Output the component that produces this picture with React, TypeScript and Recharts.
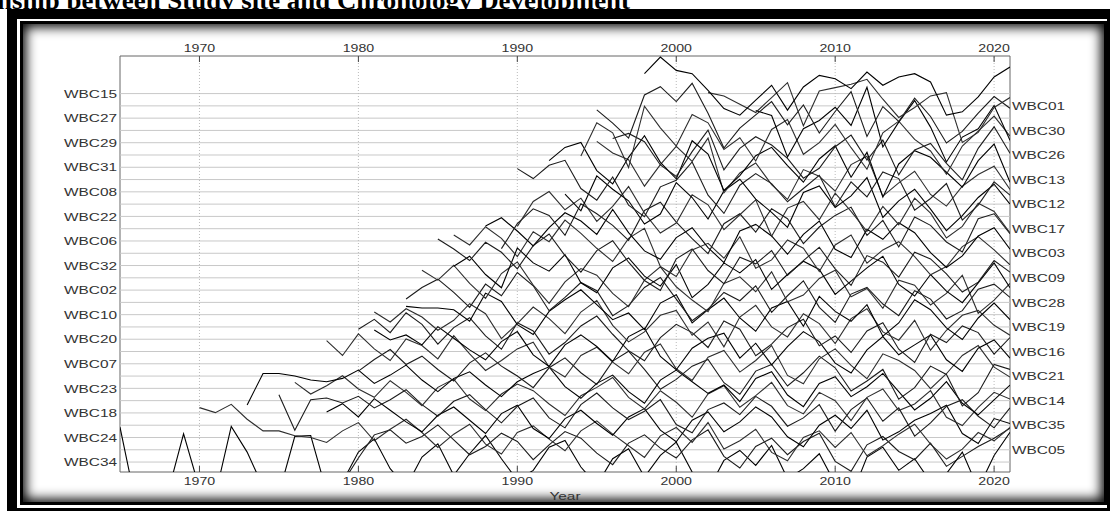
import React from "react";
import { LineChart, Line, XAxis, YAxis, ReferenceLine, ReferenceArea } from "recharts";

// series from the bottom row (level 0) up to the top row (level 30)
const seriesNames = [
  "WBC34", "WBC05", "WBC24", "WBC35", "WBC18", "WBC14", "WBC23", "WBC21",
  "WBC07", "WBC16", "WBC20", "WBC19", "WBC10", "WBC28", "WBC02", "WBC09",
  "WBC32", "WBC03", "WBC06", "WBC17", "WBC22", "WBC12", "WBC08", "WBC13",
  "WBC31", "WBC26", "WBC29", "WBC30", "WBC27", "WBC01", "WBC15",
];

const startYears = [
  1965, 1979, 1970, 1978, 1975, 1976, 1973, 1980,
  1978, 1981, 1980, 1981, 1983, 1983, 1984, 1986,
  1985, 1986, 1988, 1989, 1990, 1993, 1990, 1995,
  1992, 1996, 1994, 2005, 1995, 2002, 1998,
];

const yearTicks = [1970, 1980, 1990, 2000, 2010, 2020];
const firstYear = 1965;
const lastYear = 2021;

// standardized ring-width values (z-scores), one per year from the start year
const wbc34 = [2.1, -2.5, -2.2, -1.9, 1.7, -1.6, -2.0, 2.15, 0.6, -1.5, -1.9, 1.55, 1.6, -1.8, -1.2, 0.6, 1.4, -0.4, -1.5, 0.3, 1.1, -0.8, 0.5, 1.6, 0.2, -1.1, -0.5, 0.9, 1.3, -0.3, -1.4, 0.2, 0.8, -0.9, 0.4, 1.2, -0.6, -1.7, 0.1, 0.7, -0.2, 1.0, -1.0, -0.4, 0.5, -1.3, -2.1, 0.3, 0.9, -0.5, 0.2, -1.2, -0.7, 0.6, -1.6, 0.4, 1.8];
const wbc05 = [-2.0, -0.5, 0.9, 1.2, 0.4, 0.8, 1.5, 0.6, -0.3, 0.2, 1.0, 0.5, -0.6, 0.3, 1.1, 0.7, -0.2, -0.9, 0.4, 0.9, 0.1, -0.5, 0.6, 1.2, -0.4, -1.1, 0.2, 0.7, -0.3, 0.5, 1.0, -0.7, -1.3, 0.3, 0.8, -0.1, -0.6, 0.4, -1.0, -0.4, 0.2, 0.7, 1.3];
const wbc24 = [1.8, 1.5, 2.0, 1.1, 0.4, 0.4, 0.1, 0.0, -0.3, 0.4, 0.9, -0.2, 0.5, 1.1, 0.3, -0.6, 0.2, 0.8, -0.4, -1.0, 0.3, 0.7, -0.1, -0.8, 0.4, 1.0, 0.2, -0.5, -1.2, 0.1, 0.6, -0.3, 0.9, -0.7, -0.2, 0.5, -0.9, -1.4, 0.0, 0.4, -0.6, 0.3, -1.1, -0.5, 0.2, 0.8, -0.4, -1.3, -0.7, 0.3, -0.2, 0.6];
const wbc35 = [0.8, 1.3, 0.5, 1.6, 0.9, 0.2, -0.4, 0.6, 1.1, 0.3, -0.5, 0.7, 1.2, -0.2, -0.8, 0.4, 0.9, 0.1, -0.6, 0.5, 1.0, -0.3, -1.0, 0.3, 0.8, -0.4, 0.2, 1.1, 0.5, -0.7, -1.3, 0.0, 0.6, -0.2, 0.9, -0.9, -0.4, 0.3, 0.7, 1.2, -0.5, -1.1, 0.4, 0.1];
const wbc18 = [1.1, -1.05, 0.8, 0.9, 0.6, 1.0, 0.3, 0.8, 1.4, 0.5, -0.2, 0.7, 1.1, 0.2, -0.6, 0.4, 0.9, -0.3, -0.9, 0.5, 1.2, 0.3, -0.4, 0.1, 0.8, -0.7, -1.2, 0.2, 0.6, -0.1, 1.0, 0.4, -0.8, -0.3, 0.5, -1.1, 0.2, 0.9, -0.5, 0.3, -1.4, -0.6, 0.4, 0.8, -0.2, -0.9, 0.3];
const wbc14 = [1.1, 0.4, 0.9, 1.5, 0.7, 0.2, 1.2, 0.5, -0.3, 0.8, 1.3, 0.1, -0.6, 0.4, 1.0, 0.6, -0.2, -0.9, 0.3, 0.8, 1.4, 0.2, -0.5, 0.6, -0.1, -1.0, 0.4, 0.9, -0.4, 0.3, 1.1, -0.3, -0.8, 0.5, 0.0, -1.2, 0.2, 0.7, -0.6, -0.2, 0.6, -1.0, -1.5, -0.4, 0.5, 0.1];
const wbc23 = [-1.0, 0.9, 0.9, 0.75, 0.5, 0.4, 0.6, 1.1, 0.3, 0.8, 1.4, 0.5, -0.2, 0.6, 1.0, 0.2, -0.5, 0.4, 0.9, 1.3, 0.1, -0.6, 0.3, 0.8, -0.2, -0.9, 0.5, 1.1, 0.4, -0.3, 0.2, -0.8, 0.6, 1.0, -0.4, -1.1, 0.3, 0.7, -0.5, 0.1, 0.9, -0.2, -1.3, -0.6, 0.4, -0.9, -1.6, -0.7, 0.2];
const wbc21 = [0.3, 1.0, 1.6, 0.7, 1.2, 0.4, -0.3, 0.8, 1.4, 0.6, 0.0, -0.7, 0.5, 1.1, 0.2, -0.5, 0.9, 1.5, 0.4, -0.8, -0.2, 0.6, 1.0, -0.4, -1.1, 0.3, 0.7, -0.6, 0.2, 1.2, 0.5, -0.9, -0.3, 0.4, -1.4, -0.7, 0.6, 0.1, -1.8, -1.0, 0.7, 0.4];
const wbc07 = [1.4, 0.5, 1.8, 0.9, 0.2, 1.5, 1.1, 0.3, 1.7, 0.6, -0.4, 0.2, 0.9, 1.3, -0.2, -0.8, 0.5, 1.0, 0.1, -0.6, 0.7, 1.2, -0.3, -1.0, 0.4, 0.8, -0.5, 0.2, 1.1, -0.7, -1.2, 0.3, 0.9, -0.1, -0.9, 0.6, 0.2, -0.4, -1.5, -0.6, 0.5, 1.1, -0.2, -0.8];
const wbc16 = [1.3, 0.7, 1.0, 0.4, 1.5, 0.8, 0.1, -0.5, 0.6, 1.2, -0.2, -0.9, 0.4, 1.0, 0.3, -0.6, 0.9, 1.4, -0.3, -1.1, 0.2, 0.8, 1.1, -0.4, 0.5, -0.8, 0.3, 1.2, 0.6, -0.7, -1.3, 0.1, 0.9, -0.2, 0.4, 1.0, -0.5, -1.2, 0.2, 0.7, -0.4];
const wbc20 = [0.6, 1.2, 0.4, 1.6, 0.9, -0.3, 0.7, 1.3, 0.2, -0.6, 1.0, 0.5, -0.9, -0.2, 0.8, 1.4, 0.3, -0.7, -1.3, 0.1, 0.9, 0.4, -0.5, 1.1, 0.6, -1.0, -0.3, 0.7, 1.2, -0.4, 0.2, -0.8, 0.5, 1.0, -0.6, -1.4, 0.3, -0.2, 0.8, 0.4, -0.9, 0.1];
const wbc19 = [0.9, 0.3, 1.1, 0.6, -0.2, 0.4, 1.4, 0.8, -0.7, 0.2, 1.2, 0.5, -0.4, 0.9, 1.6, 0.1, -0.9, -0.3, 0.7, 1.0, -0.5, 0.3, -1.2, 0.6, 1.3, 0.0, -0.6, 0.8, 0.2, -1.0, 0.5, 1.1, -0.3, -0.8, 0.4, -1.4, -0.2, 0.7, 1.0, 0.1, -0.5];
const wbc10 = [0.5, 0.4, 0.4, 0.3, -0.4, 1.3, 0.8, -0.6, -1.2, 0.2, 0.9, 1.5, 0.6, -0.3, 0.1, -0.9, 0.7, 1.2, -0.5, 0.3, 1.0, -0.2, -1.0, 0.4, 0.8, -0.7, 1.1, 0.2, -0.4, 0.6, -1.3, -0.5, 0.9, 0.3, -0.8, -1.5, -0.2, 0.7, -0.3];
const wbc28 = [0.2, 0.9, 1.4, 0.6, -0.3, 1.1, 0.4, 1.8, 1.0, -0.5, 0.3, 1.2, 0.7, -0.8, -0.2, 0.9, 1.5, 0.2, -1.1, -0.4, 0.6, 0.1, 1.0, -0.6, 0.4, 1.3, -0.3, -1.2, 0.5, 0.9, -0.1, -0.8, 0.7, 0.2, -1.0, -0.5, 0.8, 1.1, 0.3];
const wbc02 = [1.2, 0.6, 1.5, 0.4, -0.5, 1.0, 1.7, 0.3, -0.8, 0.5, 1.3, 0.9, -0.2, -1.0, 0.6, 1.4, 0.2, -0.6, -1.3, 0.4, 0.8, -0.1, 1.1, -0.7, -0.3, 0.7, 1.2, -0.4, 0.1, -1.1, 0.6, 0.3, -0.9, -0.2, 0.9, -1.4, -0.6, 0.4];
const wbc09 = [0.7, 1.3, 0.2, -0.6, 1.8, 0.9, 0.4, 1.4, -0.3, -0.9, 0.6, 1.2, 0.1, -0.5, 0.8, -1.2, -0.4, 0.9, 0.3, 1.1, -0.7, 0.2, 1.0, 0.5, -1.0, -0.2, 0.6, 1.3, -0.4, -1.1, 0.2, -0.8, -1.5, -0.3, 0.9, -0.6];
const wbc32 = [1.6, 1.0, 0.3, 1.4, 0.8, -0.2, 1.2, 1.9, 0.6, -0.4, 0.9, 1.5, 0.2, -0.9, -1.5, 0.4, 1.0, -0.3, -1.1, 0.5, 0.1, 0.9, -0.6, 0.3, 1.1, -0.2, -1.2, 0.6, 0.2, -0.7, 0.8, 0.4, -0.5, -1.6, -1.0, 0.3, -0.4];
const wbc03 = [1.1, 0.5, 1.6, 0.9, -0.2, 1.3, 0.7, 2.0, 1.2, 0.3, -0.5, 0.9, 1.5, -0.8, -1.4, 0.2, 0.6, -0.3, 1.0, -0.9, -0.4, 0.8, 0.3, -1.1, 0.5, 1.1, -0.6, 0.2, 0.7, -0.2, -1.3, -0.8, 0.4, 1.0, 0.2, -0.7];
const wbc06 = [0.9, 1.4, 0.6, -0.3, 0.8, 1.7, 1.2, 0.4, 1.9, 0.5, -0.6, -1.1, 0.2, 0.8, -0.4, -1.3, 0.6, 1.0, 0.3, -0.8, 0.4, 1.2, -0.5, -1.0, 0.7, 0.1, 1.1, 0.5, -0.7, -1.6, -0.9, 0.3, 0.8, -0.5];
const wbc17 = [-1.2, 0.3, 1.2, 0.8, -0.4, 1.5, 0.9, 0.2, -0.7, 1.1, 1.6, 0.4, -0.6, -1.5, 0.3, 0.9, -0.2, 1.2, 0.6, -0.9, 0.1, 0.8, 1.3, -0.4, 0.5, -1.1, 0.7, 0.2, -0.8, -1.4, 0.6, 0.9, -0.3];
const wbc22 = [-0.6, 0.9, 1.5, 0.4, 1.1, -0.3, 0.6, 1.8, 0.2, -1.0, -0.4, 1.3, 0.7, -0.8, 0.1, 1.0, -1.2, 0.5, 0.9, -0.2, 1.4, 0.3, -0.9, 0.6, -0.5, 1.1, 0.2, -1.3, -0.6, 0.8, 0.3, -1.0];
const wbc12 = [0.6, -0.4, 1.7, 0.9, 0.2, -1.2, -0.6, 1.3, 0.4, -0.9, 0.8, 1.5, 0.3, -0.5, -1.4, 0.7, 1.1, -0.2, 0.5, 1.6, -0.8, 0.2, 0.9, -0.3, -1.6, -0.7, 0.4, 1.2, 0.0];
const wbc08 = [1.4, 0.8, 1.6, 1.9, 0.2, -0.5, 0.9, -0.8, -1.5, 0.3, 0.7, 1.8, -0.2, -1.3, 0.4, 1.1, 0.5, -0.6, 0.2, 1.0, -0.9, 0.6, -0.3, 1.2, 0.8, -1.1, -0.4, 0.5, -1.7, -0.8, 0.6, -0.2];
const wbc13 = [2.3, 1.6, 1.2, -0.4, 0.9, 2.0, 1.1, 2.5, -0.8, 0.4, 1.0, -0.3, -1.2, 0.6, 0.2, -0.7, 0.9, 1.4, -1.0, -0.2, 0.5, -0.9, -1.6, -0.4, 0.3, 0.8, -0.6];
const wbc31 = [0.4, 1.2, 1.5, -0.2, -1.0, 0.6, 1.9, 0.3, -0.7, 1.6, 0.8, -1.4, -0.5, 0.7, 1.2, 0.1, -0.9, 0.5, 1.3, -0.6, 0.9, -1.8, 0.2, 1.0, 0.6, -0.3, -1.2, 0.4, 1.4, -0.9];
const wbc26 = [1.0, 1.3, 0.8, -0.6, -1.3, 0.2, 1.5, -0.9, 0.4, 1.1, 0.6, -0.2, -1.4, -0.8, 0.5, 1.2, -0.3, 0.9, -1.2, 0.3, 0.7, -0.5, -1.5, 0.4, 1.7, 0.1];
const wbc29 = [-0.8, 1.2, 0.6, -1.5, 2.2, 0.9, -0.2, 1.7, 1.2, -0.4, 0.3, -1.1, 0.8, 1.4, -0.7, 0.0, 1.1, -0.3, -1.6, 0.6, 1.3, 0.2, -0.5, -1.9, -0.2, 0.7, 1.6, 0.4];
const wbc30 = [1.2, 0.9, -1.6, 0.1, 0.6, 1.4, 0.3, 2.6, -1.0, 0.5, 1.8, 0.2, -1.9, -0.4, 0.1, 1.5, -0.6];
const wbc27 = [0.5, -0.3, -1.2, 1.4, 1.9, 1.0, 2.1, 0.3, -1.8, -0.6, 0.2, 1.0, -0.4, 0.8, -0.9, 0.4, 1.6, -1.1, 0.7, -0.2, 1.2, 0.1, -1.5, -0.8, 0.3, 1.3, 0.6];
const wbc01 = [0.8, 0.6, 0.1, -0.4, 0.5, 1.4, -1.2, 0.9, 1.1, 1.3, 1.6, 0.4, -0.7, -0.1, 0.6, 0.8, -2.2, -1.6, -0.1, 0.5];
const wbc15 = [1.2, 2.2, 1.4, 1.2, 0.2, -0.9, -1.3, -0.4, 0.5, -1.0, 0.4, 1.1, 0.9, 0.3, 1.3, 0.5, 1.0, 1.2, 0.7, -1.3, -1.1, -0.2, 1.0, 1.6];

const seriesValues = [
  wbc34, wbc05, wbc24, wbc35, wbc18, wbc14, wbc23, wbc21,
  wbc07, wbc16, wbc20, wbc19, wbc10, wbc28, wbc02, wbc09,
  wbc32, wbc03, wbc06, wbc17, wbc22, wbc12, wbc08, wbc13,
  wbc31, wbc26, wbc29, wbc30, wbc27, wbc01, wbc15,
];

const W = 1110;
const H = 511;
const PLOT_LEFT = 120;
const PLOT_RIGHT = 1010;
const PLOT_TOP = 56;
const PLOT_BOTTOM = 472;
const Y_MIN = -0.81;
const Y_MAX = 33.06;
const ZFAC = 1.35; // vertical stretch of each series, in rows per z unit
const FONT = "'Liberation Sans', Arial, Helvetica, sans-serif";
const TEXT = "#333";

const levels = seriesNames.map((_, i) => i);

// each series sits on its own row: row index + scaled z-score
const rows = [] as any[];
for (let year = firstYear; year <= lastYear; year++) {
  const row: any = { year };
  seriesNames.forEach((name, lvl) => {
    const k = year - startYears[lvl];
    const vals = seriesValues[lvl];
    if (k >= 0 && k < vals.length) row[name] = lvl + vals[k] * ZFAC;
  });
  rows.push(row);
}

const YTick = ({ y, payload }: any) => {
  const lvl = payload.value as number;
  const left = lvl % 2 === 0;
  return (
    <text
      x={left ? PLOT_LEFT - 3 : PLOT_RIGHT + 2}
      y={y}
      dy={4.2}
      textAnchor={left ? "end" : "start"}
      fontFamily={FONT}
      fontSize={11.5}
      fill={TEXT}
      textLength={53}
      lengthAdjust="spacingAndGlyphs"
    >
      {seriesNames[lvl]}
    </text>
  );
};

const XTick = ({ x, payload }: any) => (
  <g>
    <line x1={x} x2={x} y1={PLOT_TOP} y2={PLOT_TOP + 6} stroke="#444" />
    <line x1={x} x2={x} y1={PLOT_BOTTOM} y2={PLOT_BOTTOM - 6} stroke="#444" />
    <text x={x} y={51.5} textAnchor="middle" fontFamily={FONT} fontSize={11.5} fill={TEXT}
      textLength={31.5} lengthAdjust="spacingAndGlyphs">{payload.value}</text>
    <text x={x} y={485} textAnchor="middle" fontFamily={FONT} fontSize={11.5} fill={TEXT}
      textLength={31.5} lengthAdjust="spacingAndGlyphs">{payload.value}</text>
  </g>
);

const YearLabel = ({ viewBox }: any) => (
  <text x={viewBox.x + viewBox.width / 2} y={500} textAnchor="middle" fontFamily={FONT}
    fontSize={11.5} fill={TEXT} textLength={31} lengthAdjust="spacingAndGlyphs">Year</text>
);

export default function App() {
  return (
    <div style={{ position: "absolute", left: 0, top: 0, width: W, height: H, overflow: "hidden", background: "#fff" }}>
      <svg width={W} height={30} style={{ position: "absolute", left: 0, top: 0 }}>
        <text x={-3} y={9} fontFamily="'Liberation Serif', 'Times New Roman', serif" fontWeight="bold"
          fontSize={26} fill="#000" textLength={633} lengthAdjust="spacingAndGlyphs">
          nship between Study site and Chronology Development
        </text>
      </svg>
      <div style={{ position: "absolute", left: 7, top: 9, width: 1110, height: 509, border: "10px solid #000", boxSizing: "border-box" }} />
      <div style={{ position: "absolute", left: 20, top: 21, width: 1087, height: 484, border: "3px solid #000", boxSizing: "border-box", boxShadow: "inset 0 0 12px 3px #000", background: "#fff" }} />
      <div style={{ position: "absolute", left: 0, top: 0 }}>
        <LineChart width={W} height={H} data={rows} margin={{ top: PLOT_TOP, right: W - PLOT_RIGHT, bottom: 9, left: 60 }}>
          {levels.map((l) => (
            <ReferenceLine key={"h" + l} y={l} stroke="#c8c8c8" strokeWidth={1} />
          ))}
          {yearTicks.map((yr) => (
            <ReferenceLine key={"v" + yr} x={yr} stroke="#bbb" strokeDasharray="1 2" />
          ))}
          <XAxis dataKey="year" type="number" domain={[firstYear, lastYear]} ticks={yearTicks} allowDataOverflow
            height={30} axisLine={false} tickLine={false} tick={<XTick />} label={<YearLabel />} />
          <YAxis type="number" domain={[Y_MIN, Y_MAX]} ticks={levels} allowDataOverflow width={60}
            axisLine={false} tickLine={false} tick={<YTick />} interval={0} />
          {seriesNames.map((name, i) => (
            <Line key={name} dataKey={name} type="linear" stroke={i % 3 === 0 ? "#000" : i % 3 === 1 ? "#1c1c1c" : "#2e2e2e"}
              strokeWidth={1.1} dot={false} activeDot={false} isAnimationActive={false} />
          ))}
          <ReferenceArea x1={firstYear} x2={lastYear} y1={Y_MIN} y2={Y_MAX} fill="none" stroke="#666" strokeWidth={1} />
        </LineChart>
      </div>
    </div>
  );
}
